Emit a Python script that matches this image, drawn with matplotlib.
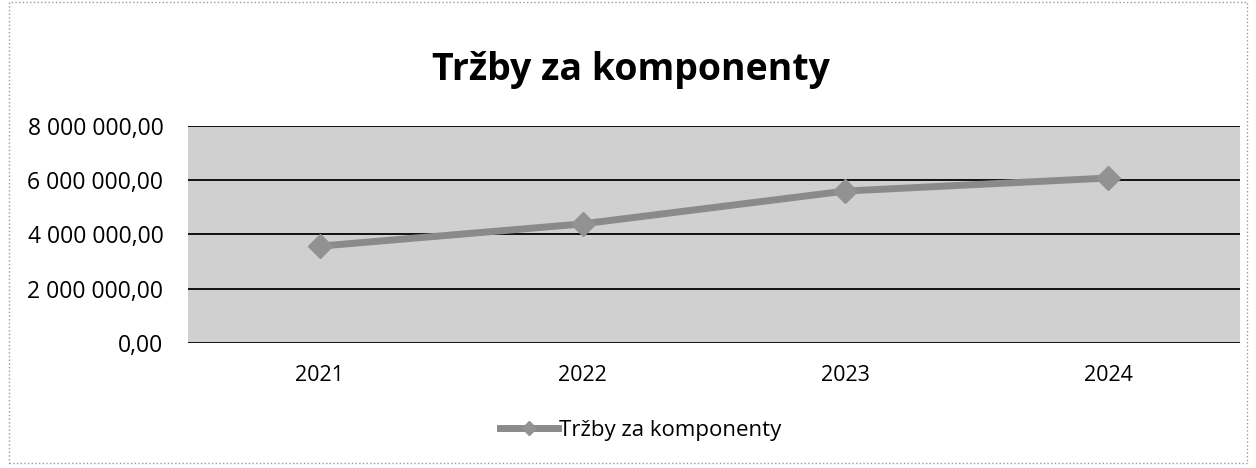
import matplotlib.pyplot as plt
from matplotlib.patches import Rectangle

years = ["2021", "2022", "2023", "2024"]
trzby = [3570000, 4390000, 5600000, 6080000]
y_ticks = [0, 2000000, 4000000, 6000000, 8000000]
series_name = "Tržby za komponenty"


def fmt_cz(v):
    # Czech number format: space thousands, comma decimals
    s = f"{v:,.2f}"
    return s.replace(",", " ").replace(".", ",")


plt.rcParams['font.family'] = ['Open Sans', 'DejaVu Sans']

fig = plt.figure(figsize=(12.56, 4.68), dpi=100)
ax = fig.add_axes([0.150, 0.267, 0.837, 0.464])

x = range(len(years))
ax.plot(x, trzby, color='#8a8a8a', linewidth=5, marker='D', markersize=12,
        markerfacecolor='#929292', markeredgecolor='#929292', label=series_name,
        zorder=3)

ax.set_facecolor('#d0d0d0')
ax.set_xlim(-0.5, len(years) - 0.5)
ax.set_ylim(0, 8000000)
ax.set_yticks(y_ticks)
ax.set_yticklabels([fmt_cz(v) for v in y_ticks], fontsize=16.5)
ax.set_xticks(list(x))
ax.set_xticklabels(years, fontsize=15.5)
ax.tick_params(axis='y', length=0, pad=18)
ax.tick_params(axis='x', length=0, pad=16)
ax.yaxis.grid(True, color='#111111', linewidth=1.4)
ax.set_axisbelow(True)
for sp in ax.spines.values():
    sp.set_visible(False)

fig.text(0.502, 0.85, series_name, ha='center', va='center',
         fontsize=27, fontweight='bold')

ax.legend(loc='upper center', bbox_to_anchor=(0.43, -0.26), frameon=False,
          fontsize=16, handlelength=2.6, handletextpad=0.05, markerscale=0.6)

fig.patches.append(Rectangle((0.007, 0.01), 0.986, 0.985, transform=fig.transFigure,
                             fill=False, edgecolor='#9a9a9a', linewidth=1,
                             linestyle=':'))

fig.savefig('out.png', dpi=100)
